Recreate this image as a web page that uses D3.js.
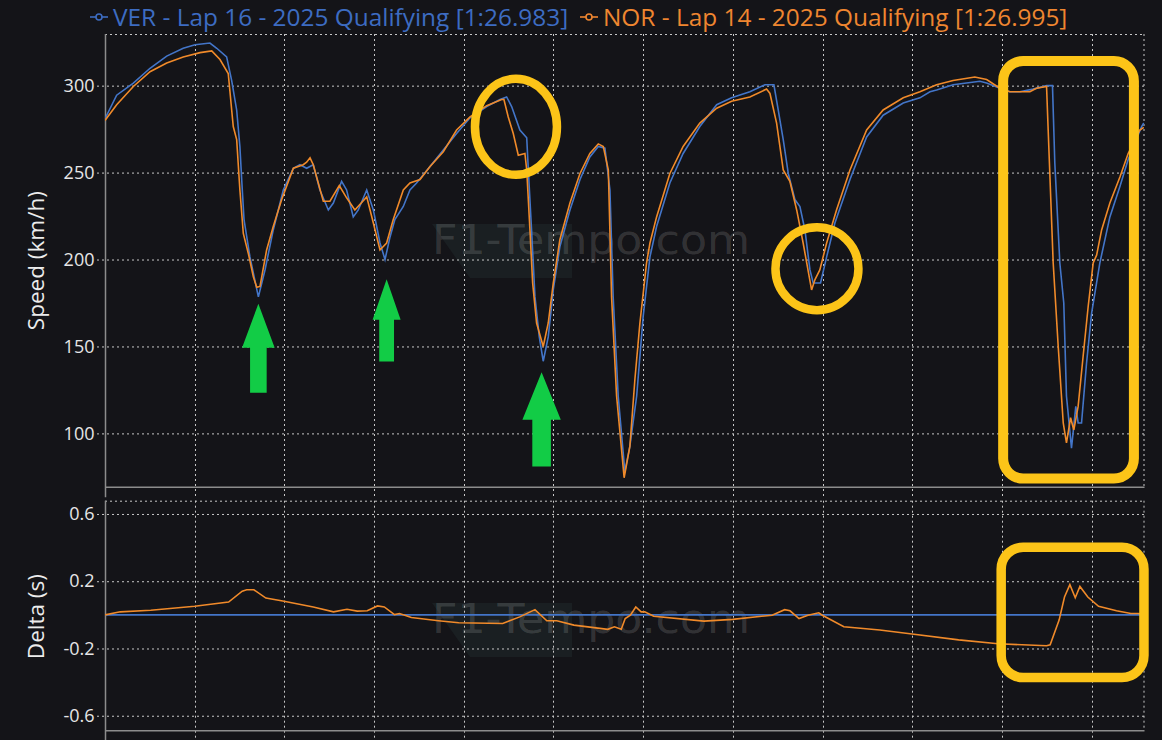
<!DOCTYPE html>
<html><head><meta charset="utf-8">
<script src="https://cdn.jsdelivr.net/npm/d3@7"></script>
<style>html,body{margin:0;padding:0;background:#141418;} svg{display:block;}</style>
</head><body>
<svg id="chart" width="1162" height="740"></svg>
<script>
// ---------- data (distance in metres, speed in km/h, delta in s) ----------
const verDist  = [0,65,158,251,344,436,502,585,623,678,706,734,752,762,775,808,855,892,938,994,1050,1087,1124,1161,1198,1245,1273,1319,1347,1384,1412,1459,1496,1533,1561,1589,1616,1663,1700,1737,1812,1886,1960,2035,2128,2202,2239,2267,2313,2351,2360,2378,2397,2421,2443,2471,2499,2536,2592,2648,2703,2750,2787,2815,2833,2861,2898,2926,2964,3000,3038,3075,3149,3223,3316,3410,3493,3595,3679,3729,3753,3781,3809,3846,3874,3902,3930,3948,3989,4023,4069,4153,4246,4338,4450,4543,4599,4636,4728,4877,4915,4989,5044,5100,5174,5249,5282,5295,5323,5345,5360,5388,5412,5425,5444,5472,5500,5546,5602,5658,5704,5779,5791];
const verSpeed = [281,294.5,301.5,310,317,321.5,323.5,324.5,321.5,316.5,303,286,265,246,223,201.5,178.5,194,217,240,252.5,254.5,252.5,254.5,240,228.5,232.5,245,240,224.5,228.5,240,228.5,209.5,200,213,223,230.5,240,244,253.5,263,272.5,281.5,288,292,293.5,288,274.5,270,251.5,217,178.5,155.5,141.5,155.5,182.5,207.5,228.5,246,259,265,264,240,178.5,121.5,78,92.5,121.5,167,201.5,219,244,261,276.5,289,293,296.5,300.5,300.5,286,269,249.5,234.5,230.5,217,194,186.5,186.5,201.5,221,246,270.5,283,290,293,296.5,297.5,300.5,302.5,301.5,298.5,296.5,296.5,298,300,300,255.5,198,175,121.5,91.5,115.5,106,106,140.5,169,198,224.5,242,257.5,276.5,278.5];

const norDist  = [0,65,158,251,344,436,530,595,641,687,715,734,752,771,799,827,846,864,901,938,985,1050,1105,1124,1143,1161,1217,1254,1306,1347,1393,1459,1496,1533,1570,1607,1663,1700,1756,1812,1886,1960,2035,2128,2211,2224,2248,2276,2304,2341,2351,2369,2384,2406,2443,2471,2499,2536,2592,2648,2703,2750,2778,2806,2824,2852,2894,2926,2954,2982,3019,3038,3075,3149,3223,3316,3410,3493,3595,3688,3707,3744,3781,3818,3856,3892,3939,3958,3985,4023,4078,4153,4246,4338,4450,4543,4636,4728,4849,4915,4989,5044,5156,5193,5249,5258,5286,5314,5342,5360,5383,5401,5425,5453,5481,5509,5528,5556,5602,5658,5704,5769,5791];
const norSpeed = [280,289,299.5,308,313,316.5,319,320,315,307,276.5,269,240,215,203.5,190,184,184.5,205.5,219,234.5,252.5,254.5,256,258.5,254.5,233.5,233.5,242.5,235.5,228.5,236,221,205.5,209.5,223,240,244,246,253.5,262,274.5,282,288.5,292,292,282,272.5,260,261,251.5,217,186.5,163.5,150,163.5,186.5,211.5,232.5,249.5,261,266.5,265,251.5,178.5,121.5,74.5,92.5,131,163.5,198,209.5,224.5,249.5,265,278.5,287,291,293.5,298,295.5,278.5,251.5,245,228.5,209.5,182.5,188.5,194,209.5,228.5,251.5,274.5,286,293,296.5,300.5,303,305,303.5,298.5,296.5,296.5,298.5,299.5,274.5,198,150,106,94.5,109,102,115.5,144.5,173,198,202.5,217,232.5,247.5,261,274.5,276];

const deltaDist = [0,85,255,500,689,765,790,830,897,991,1161,1274,1349,1406,1462,1519,1557,1614,1642,1708,1859,1972,2217,2312,2397,2463,2519,2614,2803,2840,2878,2900,2929,2959,2989,3009,3059,3339,3499,3719,3789,3819,3869,3919,3979,3999,4119,4319,4499,4759,4979,5249,5269,5319,5349,5379,5409,5435,5479,5539,5639,5719,5759,5791];
const deltaNor  = [0,0.018,0.027,0.051,0.076,0.141,0.149,0.149,0.1,0.082,0.047,0.018,0.033,0.022,0.024,0.053,0.047,0.002,0.008,-0.016,-0.035,-0.047,-0.051,-0.012,0.031,-0.035,-0.035,-0.061,-0.086,-0.071,-0.086,-0.022,-0.002,0.047,0.018,0.018,-0.008,-0.037,-0.027,-0.002,0.031,0.024,-0.022,-0.002,0.012,-0.002,-0.071,-0.09,-0.114,-0.149,-0.172,-0.184,-0.178,-0.031,0.106,0.18,0.102,0.169,0.106,0.051,0.024,0.008,0.008,0.005];
const deltaVer  = [0,0]; // reference driver
const deltaVerDist = [0,5791];

const distTicks  = [0,500,1000,1500,2000,2500,3000,3500,4000,4500,5000,5500];
const speedTicks = [100,150,200,250,300];
const deltaTicks = [-0.6,-0.2,0.2,0.6];
const deltaTickLabels = ["-0.6","-0.2","0.2","0.6"];
const legendLabels = ["VER - Lap 16 - 2025 Qualifying [1:26.983]","NOR - Lap 14 - 2025 Qualifying [1:26.995]"];
const seriesColors = ["#4375c8","#f08a2a"];
const legendColors = ["#3d6cc2","#ef8630"];

// annotations in data coordinates
const arrows = [
  {d:855,  tip:174.5, neck:149.3, tail:123.4, head:16.3, shaft:8.3},
  {d:1570, tip:188.7, neck:165.3, tail:141.4, head:14,   shaft:7.4},
  {d:2434, tip:135.1, neck:107.9, tail:81.0,  head:19.2, shaft:9.3}
];
const circles = [
  {d:2291, v:276.3, rx:41, ry:48},
  {d:3969, v:194.7, rx:41.5, ry:41.5}
];

// ---------- layout ----------
const svg = d3.select("#chart");
const W = 1162, H = 740;
const L = 105, R = 1144.5;
const top1 = 34, bot1 = 487.3, top2 = 500.7, bot2 = 730.7;

svg.append("rect").attr("width",W).attr("height",H).attr("fill","#141418");

const x  = d3.scaleLinear().domain([0,5795]).range([L,R]);
const yS = d3.scaleLinear().domain([69,329.7]).range([bot1,top1]);
const yD = d3.scaleLinear().domain([-0.689,0.679]).range([bot2,top2]);

const gridCol = "#c8c8c8", gridDash = "2,3";
const font = "'Open Sans', 'Noto Sans', sans-serif";

function panel(yScale, top, bottom, ticks, labels, watermarkY){
  const g = svg.append("g");
  // watermark
  const wm = g.append("g");
  wm.append("path")
    .attr("d", `M${432},${watermarkY-30} L${572},${watermarkY-30} L${572},${watermarkY+24} L${470},${watermarkY+24} Z`)
    .attr("fill","#1f2a2c").attr("opacity",0.5);
  wm.append("text").attr("x",432).attr("y",watermarkY)
    .attr("font-family","'DejaVu Sans', sans-serif")
    .attr("font-size",40).attr("textLength",318).attr("lengthAdjust","spacingAndGlyphs")
    .attr("fill","#ffffff").attr("fill-opacity",0.15).text("F1-Tempo.com");
  // horizontal gridlines (with tick stubs to the left)
  g.selectAll(".hg").data(ticks).join("line")
    .attr("x1",L-8).attr("x2",R).attr("y1",d=>yScale(d)+0.5).attr("y2",d=>yScale(d)+0.5)
    .attr("stroke",gridCol).attr("stroke-dasharray",gridDash).attr("stroke-width",1);
  // top border
  g.append("line").attr("x1",L).attr("x2",R).attr("y1",top+0.5).attr("y2",top+0.5)
    .attr("stroke",gridCol).attr("stroke-dasharray",gridDash);
  // vertical gridlines extending below bottom axis
  g.selectAll(".vg").data(distTicks.slice(1)).join("line")
    .attr("x1",d=>Math.round(x(d))+0.5).attr("x2",d=>Math.round(x(d))+0.5)
    .attr("y1",top).attr("y2",bottom+10)
    .attr("stroke",gridCol).attr("stroke-dasharray",gridDash);
  // right border
  g.append("line").attr("x1",R-0.5).attr("x2",R-0.5).attr("y1",top).attr("y2",bottom)
    .attr("stroke",gridCol).attr("stroke-dasharray",gridDash);
  // left axis line + bottom axis line
  g.append("line").attr("x1",L+0.5).attr("x2",L+0.5).attr("y1",top).attr("y2",bottom+10)
    .attr("stroke","#8c8c8c").attr("stroke-width",1.5);
  g.append("line").attr("x1",L).attr("x2",R).attr("y1",bottom).attr("y2",bottom)
    .attr("stroke","#8c8c8c").attr("stroke-width",1.5);
  // tick labels via axis
  const ax = d3.axisLeft(yScale).tickValues(ticks).tickSize(0).tickPadding(0)
    .tickFormat((d,i)=>labels[i]);
  const ag = g.append("g").attr("transform",`translate(${L-10.5},0)`).call(ax);
  ag.select(".domain").remove();
  ag.selectAll("text").attr("font-family",font).attr("font-size",18).attr("fill","#e6e6e6");
  return g;
}

panel(yS, top1, bot1, speedTicks, speedTicks.map(String), 254);
panel(yD, top2, bot2, deltaTicks, deltaTickLabels, 633);

// axis titles
svg.append("text").attr("transform",`translate(44,${(top1+bot1)/2}) rotate(-90)`)
  .attr("text-anchor","middle").attr("font-family",font).attr("font-size",22.5)
  .attr("fill","#ececec").text("Speed (km/h)");
svg.append("text").attr("transform",`translate(44,${(top2+bot2)/2+1}) rotate(-90)`)
  .attr("text-anchor","middle").attr("font-family",font).attr("font-size",22.5)
  .attr("fill","#ececec").text("Delta (s)");

// ---------- lines ----------
const clipId = "clipS";
svg.append("clipPath").attr("id",clipId).append("rect").attr("x",L).attr("y",top1).attr("width",R-L).attr("height",bot1-top1);
svg.append("clipPath").attr("id","clipD").append("rect").attr("x",L).attr("y",top2).attr("width",R-L).attr("height",bot2-top2);

const lineS = d3.line().x(d=>x(d[0])).y(d=>yS(d[1]));
const lineD = d3.line().x(d=>x(d[0])).y(d=>yD(d[1]));

svg.append("path").datum(d3.zip(verDist,verSpeed)).attr("d",lineS)
  .attr("fill","none").attr("stroke",seriesColors[0]).attr("stroke-width",1.6).attr("clip-path",`url(#${clipId})`);
svg.append("path").datum(d3.zip(norDist,norSpeed)).attr("d",lineS)
  .attr("fill","none").attr("stroke",seriesColors[1]).attr("stroke-width",1.6).attr("clip-path",`url(#${clipId})`);

svg.append("path").datum(d3.zip(deltaVerDist,deltaVer)).attr("d",lineD)
  .attr("fill","none").attr("stroke",seriesColors[0]).attr("stroke-width",1.8).attr("clip-path","url(#clipD)");
svg.append("path").datum(d3.zip(deltaDist,deltaNor)).attr("d",lineD)
  .attr("fill","none").attr("stroke",seriesColors[1]).attr("stroke-width",1.6).attr("clip-path","url(#clipD)");

// ---------- legend ----------
const legX = [90, 580];
legendLabels.forEach((lab,i)=>{
  const g = svg.append("g").attr("transform",`translate(${legX[i]},17)`);
  g.append("line").attr("x1",0).attr("x2",18).attr("y1",0).attr("y2",0).attr("stroke",legendColors[i]).attr("stroke-width",1.6);
  g.append("circle").attr("cx",9).attr("cy",0).attr("r",3).attr("fill","#141418").attr("stroke",legendColors[i]).attr("stroke-width",1.6);
  g.append("text").attr("x",23).attr("y",8.5).attr("font-family",font).attr("font-size",24.4)
    .attr("fill",legendColors[i]).text(lab);
});

// ---------- annotations ----------
const ann = svg.append("g");
arrows.forEach(a=>{
  const cx = x(a.d), ty = yS(a.tip), ny = yS(a.neck), by = yS(a.tail);
  ann.append("path").attr("d",
    `M${cx},${ty} L${cx+a.head},${ny} L${cx+a.shaft},${ny} L${cx+a.shaft},${by} L${cx-a.shaft},${by} L${cx-a.shaft},${ny} L${cx-a.head},${ny} Z`)
    .attr("fill","#12cc46");
});
circles.forEach(c=>{
  ann.append("ellipse").attr("cx",x(c.d)).attr("cy",yS(c.v)).attr("rx",c.rx).attr("ry",c.ry)
    .attr("fill","none").attr("stroke","#fcc418").attr("stroke-width",8.5);
});
// highlighted last sector boxes
const boxS = {d0:5007, d1:5736, v0:74.0, v1:314.2};
ann.append("rect").attr("x",x(boxS.d0)).attr("y",yS(boxS.v1))
  .attr("width",x(boxS.d1)-x(boxS.d0)).attr("height",yS(boxS.v0)-yS(boxS.v1))
  .attr("rx",20).attr("fill","none").attr("stroke","#fcc418").attr("stroke-width",10);
const boxD = {d0:4996, d1:5792, v0:-0.373, v1:0.402};
ann.append("rect").attr("x",x(boxD.d0)).attr("y",yD(boxD.v1))
  .attr("width",x(boxD.d1)-x(boxD.d0)).attr("height",yD(boxD.v0)-yD(boxD.v1))
  .attr("rx",22).attr("fill","none").attr("stroke","#fcc418").attr("stroke-width",9.5);
</script>
</body></html>
